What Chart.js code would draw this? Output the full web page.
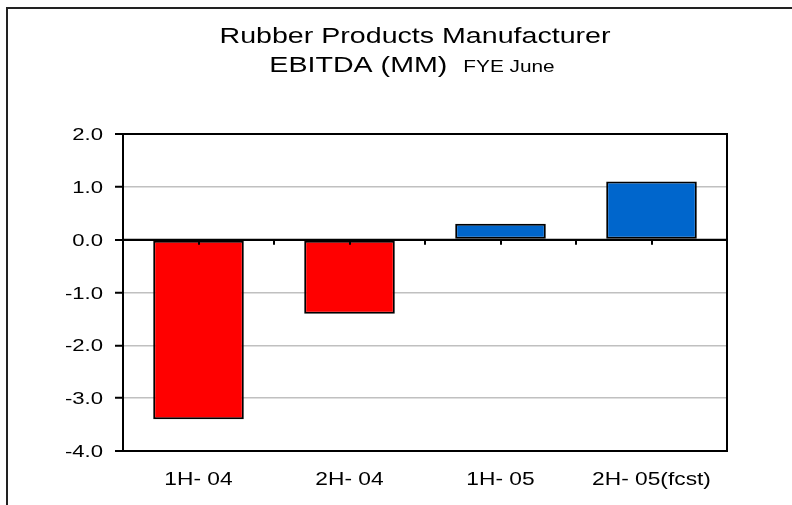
<!DOCTYPE html>
<html>
<head>
<meta charset="utf-8">
<title>Rubber Products Manufacturer EBITDA</title>
<script src="https://cdn.jsdelivr.net/npm/chart.js@4/dist/chart.umd.min.js"></script>
<style>
  html, body { margin: 0; padding: 0; background: #ffffff; }
  #wrap { width: 792px; height: 505px; }
</style>
</head>
<body>
<div id="wrap"><canvas id="chart" width="792" height="505"></canvas></div>
<script>
// Half-year periods (fiscal year ends June)
const categories = ['1H- 04', '2H- 04', '1H- 05', '2H- 05(fcst)'];
// EBITDA in millions
const ebitda = [-3.4, -1.4, 0.3, 1.1];
// Value axis range and spacing
const yMin = -4.0;
const yMax = 2.0;
const yStep = 1.0;

const titleLine1 = 'Rubber Products Manufacturer';
const titleLine2 = 'EBITDA (MM)';
const titleNote = 'FYE June';

const FAMILY = '"Liberation Sans", Arial, Helvetica, sans-serif';
const STRETCH = 1.3; // wide lettering

function wideText(ctx, text, x, y, align, font) {
  ctx.save();
  ctx.font = font;
  ctx.textBaseline = 'alphabetic';
  ctx.textAlign = 'left';
  ctx.fillStyle = '#000000';
  const w = ctx.measureText(text).width * STRETCH;
  const left = align === 'center' ? x - w / 2 : align === 'right' ? x - w : x;
  ctx.translate(left, y);
  ctx.scale(STRETCH, 1);
  ctx.fillText(text, 0, 0);
  ctx.restore();
  return w;
}

const decorations = {
  id: 'decorations',
  beforeDraw(chart) {
    const ctx = chart.ctx;
    ctx.save();
    ctx.fillStyle = '#ffffff';
    ctx.fillRect(0, 0, chart.width, chart.height);
    ctx.restore();
  },
  afterDatasetsDraw(chart) {
    const ctx = chart.ctx;
    const area = chart.chartArea;
    const x = chart.scales.x;
    const y = chart.scales.y;
    const y0 = y.getPixelForValue(0);

    ctx.save();
    // zero line with small marks at category centres and boundaries
    ctx.strokeStyle = '#000000';
    ctx.lineWidth = 2;
    ctx.beginPath();
    ctx.moveTo(area.left, y0);
    ctx.lineTo(area.right, y0);
    ctx.stroke();
    ctx.beginPath();
    for (let i = 0; i < categories.length; i++) {
      const positions = [x.getPixelForValue(i), x.getPixelForValue(i + 0.5)];
      positions.forEach(px => {
        ctx.moveTo(Math.round(px), y0);
        ctx.lineTo(Math.round(px), y0 + 5);
      });
    }
    ctx.stroke();

    // plot frame
    ctx.strokeRect(area.left, area.top, area.right - area.left, area.bottom - area.top);

    // outer frame (top and left edges)
    ctx.strokeStyle = '#222222';
    ctx.beginPath();
    ctx.moveTo(7, chart.height);
    ctx.lineTo(7, 8);
    ctx.lineTo(chart.width, 8);
    ctx.stroke();
    ctx.restore();

    // titles
    wideText(ctx, titleLine1, 415, 43, 'center', '22px ' + FAMILY);
    ctx.save();
    ctx.font = '22px ' + FAMILY;
    const w1 = ctx.measureText(titleLine2).width * STRETCH;
    ctx.font = '16px ' + FAMILY;
    const w2 = ctx.measureText(titleNote).width * STRETCH;
    ctx.restore();
    const gap = 16;
    const start = 412 - (w1 + gap + w2) / 2;
    wideText(ctx, titleLine2, start, 72, 'left', '22px ' + FAMILY);
    wideText(ctx, titleNote, start + w1 + gap, 72, 'left', '16px ' + FAMILY);

    // value axis labels
    y.ticks.forEach(t => {
      const py = y.getPixelForValue(t.value);
      wideText(ctx, t.value.toFixed(1), 103, py + 6, 'right', '17px ' + FAMILY);
    });
    // category labels
    categories.forEach((c, i) => {
      wideText(ctx, c, x.getPixelForValue(i), 485, 'center', '17.5px ' + FAMILY);
    });
  }
};

new Chart(document.getElementById('chart'), {
  type: 'bar',
  data: {
    labels: categories,
    datasets: [{
      label: 'EBITDA (MM)',
      data: ebitda,
      backgroundColor: ctx => (ctx.raw < 0 ? '#ff0000' : '#0066cc'),
      borderColor: '#000000',
      borderWidth: 2,
      borderSkipped: false,
      categoryPercentage: 1.0,
      barPercentage: 0.6
    }]
  },
  options: {
    responsive: false,
    animation: false,
    devicePixelRatio: 1,
    layout: { padding: { top: 134, right: 65, left: 0, bottom: 0 } },
    plugins: {
      legend: { display: false },
      title: { display: false },
      tooltip: { enabled: false }
    },
    scales: {
      x: {
        grid: { display: false },
        border: { display: true, color: '#000000', width: 2 },
        ticks: { display: false },
        afterFit(scale) { scale.height = 54; }
      },
      y: {
        min: yMin,
        max: yMax,
        ticks: { display: false, stepSize: yStep },
        grid: {
          color: c => (c.tick && (c.tick.value === 0 || c.tick.value === yMax || c.tick.value === yMin) ? '#000000' : '#c0c0c0'),
          lineWidth: c => (c.tick && (c.tick.value === 0 || c.tick.value === yMax || c.tick.value === yMin) ? 2 : 1.5),
          tickColor: '#000000',
          tickWidth: 2,
          tickLength: 8,
          drawTicks: true
        },
        border: { display: true, color: '#000000', width: 2 },
        afterFit(scale) { scale.width = 123; }
      }
    }
  },
  plugins: [decorations]
});
</script>
</body>
</html>
